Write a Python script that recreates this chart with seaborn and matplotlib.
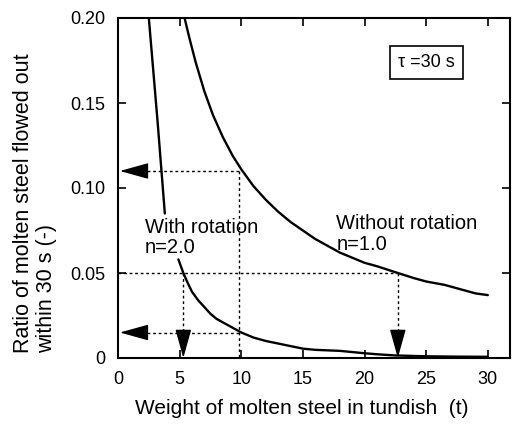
import matplotlib
matplotlib.use("Agg")
import matplotlib.pyplot as plt
import seaborn as sns
import pandas as pd

# Data
x_without = [5.4, 5.8, 6.3, 7.0, 7.7, 8.5, 9.3, 10.0, 11, 12, 13, 14, 15, 16, 17, 18, 19, 20, 21, 22.7, 24, 25, 26.5, 28, 29, 30]
y_without = [0.200, 0.188, 0.174, 0.157, 0.143, 0.130, 0.119, 0.111, 0.101, 0.093, 0.086, 0.080, 0.075, 0.070, 0.066, 0.062, 0.059, 0.056, 0.054, 0.050, 0.047, 0.045, 0.043, 0.040, 0.038, 0.037]

x_with_a = [2.5, 3.2, 3.8]
y_with_a = [0.200, 0.140, 0.085]

x_with_b = [4.9, 5.1, 5.3, 5.6, 6.0, 6.5, 7.0, 7.5, 8.0, 9.0, 10.0, 11, 12, 13, 14, 15, 16, 17, 18, 19, 20, 21, 22.5, 25, 27.5, 30]
y_with_b = [0.058, 0.054, 0.050, 0.045, 0.039, 0.034, 0.030, 0.026, 0.023, 0.019, 0.015, 0.012, 0.010, 0.0085, 0.007, 0.0055, 0.0048, 0.0045, 0.0042, 0.0035, 0.0028, 0.0022, 0.0015, 0.0010, 0.0008, 0.0007]

x_ticks = [0, 5, 10, 15, 20, 25, 30]
y_ticks = [0, 0.05, 0.10, 0.15, 0.20]
y_tick_labels = ["0", "0.05", "0.10", "0.15", "0.20"]

sns.set_theme(style="ticks")
plt.rcParams['font.family'] = ['Liberation Sans', 'DejaVu Sans']
plt.rcParams['text.color'] = 'black'

W, H = 516, 424
fig = plt.figure(figsize=(W / 100, H / 100), dpi=100)
ax = fig.add_axes([118 / W, 1 - 358 / H, (510 - 118) / W, (358 - 18) / H])

df_wo = pd.DataFrame({"x": x_without, "y": y_without})
df_a = pd.DataFrame({"x": x_with_a, "y": y_with_a})
df_b = pd.DataFrame({"x": x_with_b, "y": y_with_b})
for d in (df_wo, df_a, df_b):
    sns.lineplot(data=d, x="x", y="y", ax=ax, color="black", lw=1.7, sort=False)

dot = dict(color="black", lw=1.0, ls=(0, (2, 2)))
arrow = dict(arrowstyle="-|>,head_length=0.9,head_width=0.25", color="black", lw=1.0,
             mutation_scale=20, shrinkA=0, shrinkB=0)
# 0.11 guide
ax.plot([1.5, 10.0], [0.11, 0.11], **dot)
ax.plot([9.8, 9.8], [0.11, 0], **dot)
ax.annotate("", xy=(0.15, 0.11), xytext=(1.7, 0.11), arrowprops=arrow)
# 0.05 guide
ax.plot([0, 22.7], [0.05, 0.05], **dot)
ax.plot([22.7, 22.7], [0.05, 0.010], **dot)
ax.annotate("", xy=(22.7, 0.0), xytext=(22.7, 0.011), arrowprops=arrow)
ax.plot([5.3, 5.3], [0.05, 0.010], **dot)
ax.annotate("", xy=(5.3, 0.0), xytext=(5.3, 0.011), arrowprops=arrow)
# 0.015 guide
ax.plot([1.5, 10.0], [0.015, 0.015], **dot)
ax.annotate("", xy=(0.15, 0.015), xytext=(1.7, 0.015), arrowprops=arrow)

ax.set_xlim(0, 31.8)
ax.set_ylim(0, 0.20)
ax.set_xticks(x_ticks)
ax.set_yticks(y_ticks)
ax.set_yticklabels(y_tick_labels)
ax.tick_params(direction="in", top=True, right=True, labeltop=False, labelright=False,
               length=6, width=1.2, labelsize=13, colors="black", pad=9)
for s in ax.spines.values():
    s.set_linewidth(1.5)
    s.set_color("black")
ax.set_xlabel("")
ax.set_ylabel("")

fig.text(302 / W, 1 - 408 / H, "Weight of molten steel in tundish  (t)", fontsize=15,
         ha="center", va="center", color="black")
fig.text(35 / W, 1 - 203 / H, "Ratio of molten steel flowed out\nwithin 30 s (-)", fontsize=15.5,
         rotation=90, ha="center", va="center", multialignment="left", linespacing=1.15,
         color="black")

ax.text(2.2, 0.077, "With rotation", fontsize=14.5, va="center", ha="left", color="black")
ax.text(2.2, 0.065, "n=2.0", fontsize=14.5, va="center", ha="left", color="black")
ax.text(17.7, 0.079, "Without rotation", fontsize=14.5, va="center", ha="left", color="black")
ax.text(17.7, 0.067, "n=1.0", fontsize=14.5, va="center", ha="left", color="black")
ax.text(25.0, 0.174, "τ =30 s", fontsize=13, va="center", ha="center", color="black",
        bbox=dict(boxstyle="square,pad=0.45", fc="white", ec="black", lw=1.2))

fig.savefig("out.png", dpi=100)
